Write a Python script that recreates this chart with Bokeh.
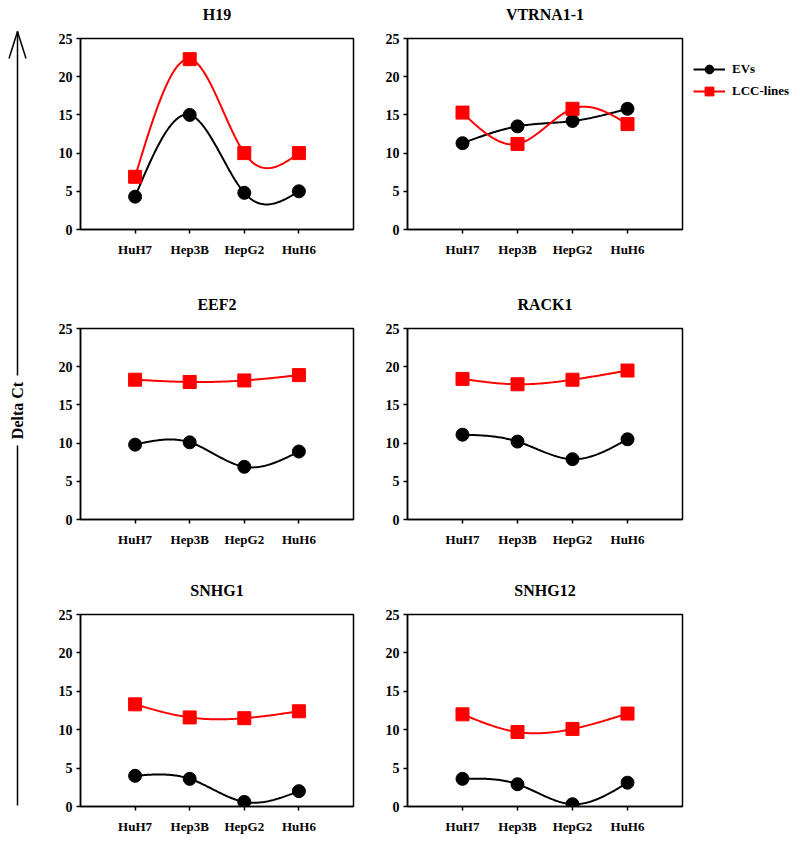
import numpy as np
from bokeh.plotting import figure
from bokeh.layouts import row, column
from bokeh.models import (Range1d, FixedTicker, Legend, LegendItem, Label,
                          LinearAxis)
from bokeh.embed import file_html
from bokeh.resources import INLINE

# ---------------- data ----------------
cell_lines = ["HuH7", "Hep3B", "HepG2", "HuH6"]
genes = ["H19", "VTRNA1-1", "EEF2", "RACK1", "SNHG1", "SNHG12"]

h19_evs = [4.3, 15.0, 4.8, 5.0]
h19_lcc = [6.9, 22.3, 10.0, 10.0]
vtrna_evs = [11.3, 13.5, 14.2, 15.8]
vtrna_lcc = [15.3, 11.2, 15.8, 13.8]
eef2_evs = [9.8, 10.1, 6.9, 8.9]
eef2_lcc = [18.3, 18.0, 18.2, 18.9]
rack1_evs = [11.1, 10.2, 7.9, 10.5]
rack1_lcc = [18.4, 17.7, 18.3, 19.5]
snhg1_evs = [4.0, 3.6, 0.6, 2.0]
snhg1_lcc = [13.3, 11.6, 11.5, 12.4]
snhg12_evs = [3.6, 2.9, 0.3, 3.1]
snhg12_lcc = [12.0, 9.7, 10.1, 12.1]

series_names = ["EVs", "LCC-lines"]
y_ticks = [0, 5, 10, 15, 20, 25]
y_label = "Delta Ct"

panel_data = [
    (h19_evs, h19_lcc), (vtrna_evs, vtrna_lcc),
    (eef2_evs, eef2_lcc), (rack1_evs, rack1_lcc),
    (snhg1_evs, snhg1_lcc), (snhg12_evs, snhg12_lcc),
]

FONT = "Liberation Serif"
RED = "#FF0000"


def natural_spline(xs, ys, n=40):
    xs = np.asarray(xs, float)
    ys = np.asarray(ys, float)
    k = len(xs)
    h = np.diff(xs)
    A = np.zeros((k, k))
    b = np.zeros(k)
    A[0, 0] = 1
    A[-1, -1] = 1
    for i in range(1, k - 1):
        A[i, i - 1] = h[i - 1]
        A[i, i] = 2 * (h[i - 1] + h[i])
        A[i, i + 1] = h[i]
        b[i] = 6 * ((ys[i + 1] - ys[i]) / h[i] - (ys[i] - ys[i - 1]) / h[i - 1])
    M = np.linalg.solve(A, b)
    out_x, out_y = [], []
    for i in range(k - 1):
        t = np.linspace(xs[i], xs[i + 1], n, endpoint=(i == k - 2))
        a = (xs[i + 1] - t) / h[i]
        c = (t - xs[i]) / h[i]
        s = (a * ys[i] + c * ys[i + 1]
             + ((a ** 3 - a) * M[i] + (c ** 3 - c) * M[i + 1]) * h[i] ** 2 / 6)
        out_x.extend(t)
        out_y.extend(s)
    return out_x, out_y


col_cfg = [dict(min_border_left=42, frame_width=273, min_border_right=12),
           dict(min_border_left=42, frame_width=275, min_border_right=110)]
row_cfg = [dict(min_border_top=38, frame_height=191, min_border_bottom=61),
           dict(min_border_top=38, frame_height=191, min_border_bottom=57),
           dict(min_border_top=38, frame_height=192, min_border_bottom=30)]

xs = list(range(1, len(cell_lines) + 1))
panels = []
for idx, (gene, (evs, lcc)) in enumerate(zip(genes, panel_data)):
    r, c = divmod(idx, 2)
    p = figure(output_backend="svg", toolbar_location=None,
               title_location=None,
               x_range=Range1d(0, len(cell_lines) + 1), y_range=Range1d(0, 25),
               **col_cfg[c], **row_cfg[r])
    p.xgrid.visible = False
    p.ygrid.visible = False
    p.outline_line_color = "black"
    p.outline_line_width = 1.5
    p.background_fill_color = "white"
    p.border_fill_color = "white"

    bx = p.below[0]
    ly_ax = p.left[0]
    bx.ticker = FixedTicker(ticks=xs)
    bx.major_label_overrides = {x: n for x, n in zip(xs, cell_lines)}
    ly_ax.ticker = FixedTicker(ticks=y_ticks)
    for ax in (bx, ly_ax):
        ax.axis_line_width = 1.5
        ax.axis_line_color = "black"
        ax.major_tick_line_width = 1.5
        ax.major_tick_in = 0
        ax.major_tick_out = 4
        ax.minor_tick_line_color = None
        ax.major_label_text_font = FONT
        ax.major_label_text_font_style = "bold"
        ax.major_label_text_color = "black"
    bx.major_label_text_font_size = "13px"
    ly_ax.major_label_text_font_size = "14px"
    bx.major_label_standoff = 8
    ly_ax.major_label_standoff = 4

    # panel title drawn as the label of an empty top axis
    tax = LinearAxis(axis_label=gene, ticker=FixedTicker(ticks=[]),
                     axis_line_color=None, major_tick_line_color=None,
                     minor_tick_line_color=None, major_label_text_font_size="0px",
                     major_tick_out=0, major_tick_in=0, major_label_standoff=0,
                     axis_label_standoff=16, axis_label_text_font=FONT,
                     axis_label_text_font_size="16px",
                     axis_label_text_font_style="bold",
                     axis_label_text_color="black")
    p.add_layout(tax, "above")

    ex, ey = natural_spline(xs, evs)
    lx, ly = natural_spline(xs, lcc)
    l_ev = p.line(ex, ey, line_color="black", line_width=2)
    l_lc = p.line(lx, ly, line_color=RED, line_width=2)
    s_ev = p.scatter(xs, evs, marker="circle", size=13, fill_color="black",
                     line_color="black")
    s_lc = p.scatter(xs, lcc, marker="square", size=13, fill_color=RED,
                     line_color=RED)

    if idx == 1:
        legend = Legend(items=[
            LegendItem(label=series_names[0], renderers=[l_ev, s_ev]),
            LegendItem(label=series_names[1], renderers=[l_lc, s_lc]),
        ], location=(11, 127))
        legend.glyph_width = 32
        legend.glyph_height = 22
        legend.label_height = 18
        legend.spacing = 0
        legend.padding = 0
        legend.margin = 0
        legend.border_line_color = None
        legend.background_fill_alpha = 0
        legend.label_text_font = FONT
        legend.label_text_font_size = "13px"
        legend.label_text_font_style = "bold"
        legend.label_text_color = "black"
        legend.label_standoff = 7
        p.add_layout(legend, "right")
    panels.append(p)

# ---------------- left strip with arrow and label ----------------
H = 836
strip = figure(output_backend="svg", toolbar_location=None, width=38, height=H,
               x_range=Range1d(0, 38), y_range=Range1d(0, H),
               x_axis_location=None, y_axis_location=None, min_border=0)
strip.xgrid.visible = False
strip.ygrid.visible = False
strip.outline_line_color = None


def py(page_y):
    return H - page_y


strip.segment(x0=[17, 17, 17, 17], y0=[py(31), py(445), py(31), py(31)],
              x1=[17, 17, 8.5, 25.5], y1=[py(375), py(805), py(58), py(58)],
              line_color="black", line_width=1.5)
strip.add_layout(Label(x=17, y=py(410), text=y_label, angle=np.pi / 2,
                       text_align="center", text_baseline="middle",
                       text_font=FONT, text_font_size="16px",
                       text_font_style="bold", text_color="black"))

grid = column(row(panels[0], panels[1]), row(panels[2], panels[3]),
              row(panels[4], panels[5]))
layout = row(strip, grid)

open("out.html", "w").write(file_html(layout, INLINE))
